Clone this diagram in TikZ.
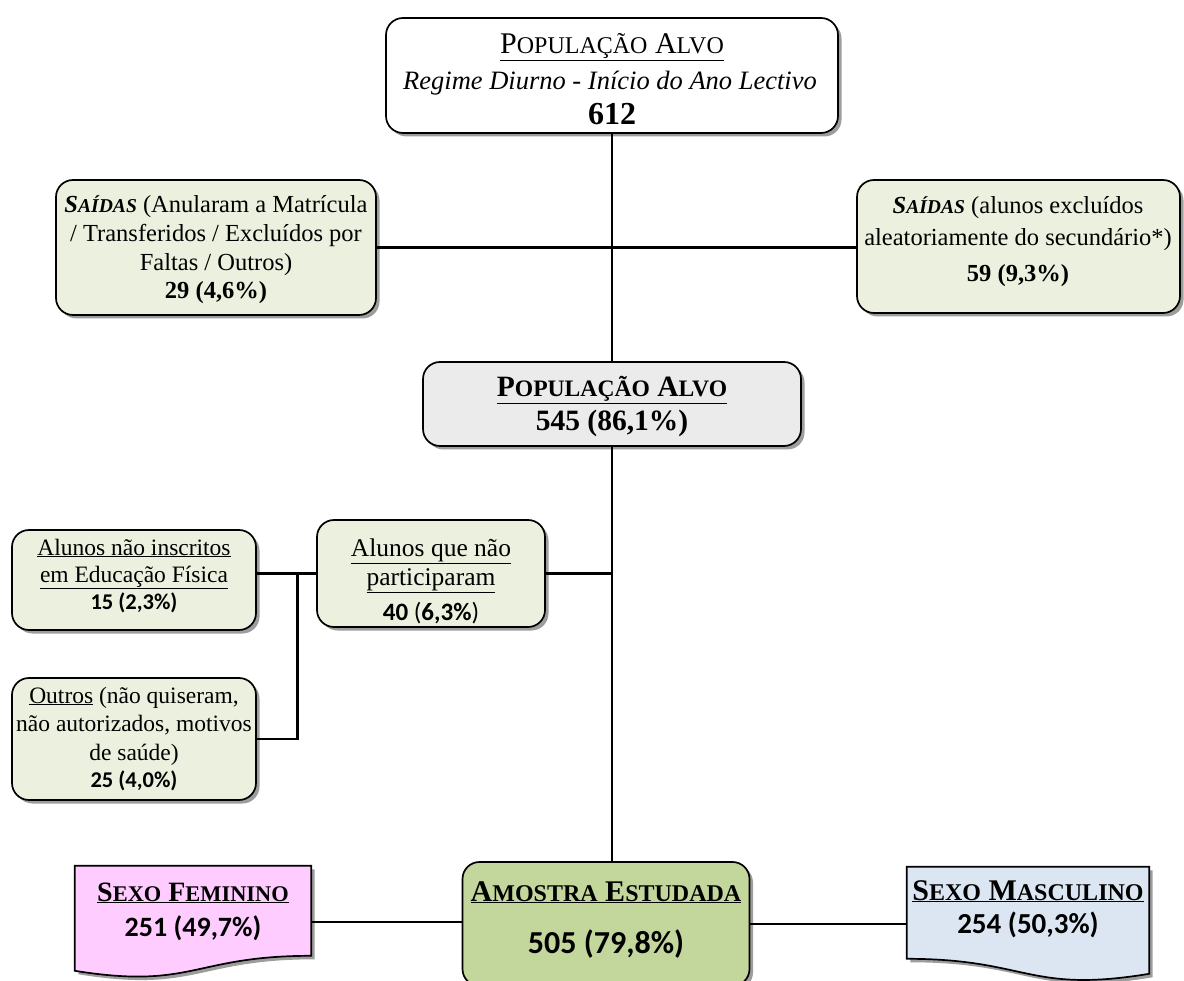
\documentclass[tikz,border=0pt]{standalone}
\usepackage{fontspec}
\usepackage{graphicx}
\setmainfont{Liberation Serif}
\newfontfamily\calf{Carlito}
\usetikzlibrary{shadows,calc}
\newcommand\sm[1]{\scalebox{0.8}{#1}}
\newcommand\fs[1]{\fontsize{#1}{#1}\selectfont}
\definecolor{sgreen}{HTML}{EBF1DE}
\definecolor{pgray}{HTML}{EBEBEB}
\definecolor{agreen}{HTML}{C3D69B}
\definecolor{fpink}{HTML}{FFCCFF}
\definecolor{mblue}{HTML}{DCE6F2}
\tikzset{
  shad/.style={drop shadow={shadow xshift=3.5pt, shadow yshift=-3.5pt, fill=black!70, opacity=0.55}},
  box/.style={draw=black, line width=1.7pt, rounded corners=17pt, shad, inner sep=0pt},
  docbox/.style={draw=black, line width=1.7pt, shad},
  anchorbox/.style={inner sep=0pt, draw=none},
  t/.style={inner sep=0pt, anchor=base},
  link/.style={draw=black, line width=2.7pt}
}
\begin{document}
\begin{tikzpicture}[x=1pt,y=-1pt]
\useasboundingbox (0,0) rectangle (1184,981);

% ---------- boxes ----------
\node[box, fill=white, minimum width=452pt, minimum height=115pt] (top) at (612,75.5) {};
\node[box, fill=sgreen, minimum width=320pt, minimum height=135pt] (sl) at (216,247.5) {};
\node[box, fill=sgreen, minimum width=323pt, minimum height=133pt] (sr) at (1018.5,246.5) {};
\node[box, fill=pgray, minimum width=378pt, minimum height=84pt] (pop) at (612,404) {};
\node[box, fill=sgreen, minimum width=244pt, minimum height=100pt] (insc) at (134,580) {};
\node[box, fill=sgreen, minimum width=228pt, minimum height=107pt] (part) at (431,573.5) {};
\node[box, fill=sgreen, minimum width=244pt, minimum height=122pt] (outros) at (134,739) {};
\node[box, fill=agreen, minimum width=287pt, minimum height=124pt] (am) at (606,924) {};

% feminino document shape
\node[anchorbox, minimum width=236pt, minimum height=112pt] (fem) at (193,922) {};
\path[docbox, fill=fpink] (fem.north west) -- (fem.north east)
  -- ($(fem.north east)+(0,90)$)
  .. controls ($(fem.north)+(0,90)$) and ($(fem.north)+(0,124)$) .. ($(fem.north west)+(0,105)$)
  -- cycle;
% masculino document shape (mirrored wave)
\node[anchorbox, minimum width=242pt, minimum height=115pt] (masc) at (1028,924.5) {};
\path[docbox, fill=mblue] (masc.north west) -- (masc.north east)
  -- ($(masc.north east)+(0,107)$)
  .. controls ($(masc.north)+(0,127)$) and ($(masc.north)+(0,92)$) .. ($(masc.north west)+(0,92)$)
  -- cycle;

% ---------- texts ----------
\node[t, font=\fs{30}] (topA) at (612,54) {\underline{P\sm{OPULAÇÃO} A\sm{LVO}}};
\node[t, font=\fs{26.5}\itshape] (topB) at (610,90) {Regime Diurno - Início do Ano Lectivo};
\node[t, font=\fs{32}\bfseries] (topC) at (612,125) {612};

\node[t, font=\fs{24.5}] (slA) at (216,213) {\textbf{\textit{S\sm{AÍDAS}}} (Anularam a Matrícula};
\node[t, font=\fs{24.5}] (slB) at (216,242) {/ Transferidos / Excluídos por};
\node[t, font=\fs{24.5}] (slC) at (216,271) {Faltas / Outros)};
\node[t, font=\fs{24.5}\bfseries] (slD) at (216,299) {29 (4,6\%)};

\node[t, font=\fs{24.5}] (srA) at (1018,214) {\textbf{\textit{S\sm{AÍDAS}}} (alunos excluídos};
\node[t, font=\fs{24.5}] (srB) at (1018,246) {aleatoriamente do secundário*)};
\node[t, font=\fs{24.5}\bfseries] (srC) at (1018,282) {59 (9,3\%)};

\node[t, font=\fs{29.5}\bfseries] (popA) at (612,397) {\underline{P\sm{OPULAÇÃO} A\sm{LVO}}};
\node[t, font=\fs{29.5}\bfseries] (popB) at (612,431) {545 (86,1\%)};

\node[t, font=\fs{23.5}] (inscA) at (134,555) {\underline{Alunos não inscritos}};
\node[t, font=\fs{23.5}] (inscB) at (134,582) {\underline{em Educação Física}};
\node[t, font=\calf\fs{22.5}\bfseries] (inscC) at (134,609) {15 (2,3\%)};

\node[t, font=\fs{25.5}] (partA) at (431,556) {\underline{Alunos que não}};
\node[t, font=\fs{25.5}] (partB) at (431,585) {\underline{participaram}};
\node[t, font=\calf\fs{25}] (partC) at (431,620) {\textbf{40} (\textbf{6,3\%})};

\node[t, font=\fs{23.5}] (outA) at (134,703) {\underline{Outros} (não quiseram,};
\node[t, font=\fs{23.5}] (outB) at (134,731) {não autorizados, motivos};
\node[t, font=\fs{23.5}] (outC) at (134,760) {de saúde)};
\node[t, font=\calf\fs{22.5}\bfseries] (outD) at (134,787) {25 (4,0\%)};

\node[t, font=\fs{30}\bfseries] (amA) at (606,901) {\underline{A\sm{MOSTRA} E\sm{STUDADA}}};
\node[t, font=\calf\fs{32}\bfseries] (amB) at (606,953) {505 (79,8\%)};

\node[t, font=\fs{28}\bfseries] (femA) at (193,901) {\underline{S\sm{EXO} F\sm{EMININO}}};
\node[t, font=\calf\fs{28}\bfseries] (femB) at (193,936) {251 (49,7\%)};

\node[t, font=\fs{30}\bfseries] (mascA) at (1028,900) {\underline{S\sm{EXO} M\sm{ASCULINO}}};
\node[t, font=\calf\fs{29}\bfseries] (mascB) at (1028,933) {254 (50,3\%)};

% ---------- connectors ----------
\draw[link] (top.south) -- (pop.north);
\draw[link] (sl.east) -- (sl.east -| sr.west);
\draw[link] (pop.south) -- (pop.south |- am.north);
\draw[link] (part.east) -- (part.east -| pop.south);
\draw[link] (insc.east |- part.west) -- (part.west);
\coordinate (j) at ($(insc.east |- part.west)!0.68!(part.west)$);
\draw[link] (j) |- (outros.east);
\draw[link] (fem.east) -- (fem.east -| am.west);
\draw[link] (am.east) -- (am.east -| masc.west);
\end{tikzpicture}
\end{document}
